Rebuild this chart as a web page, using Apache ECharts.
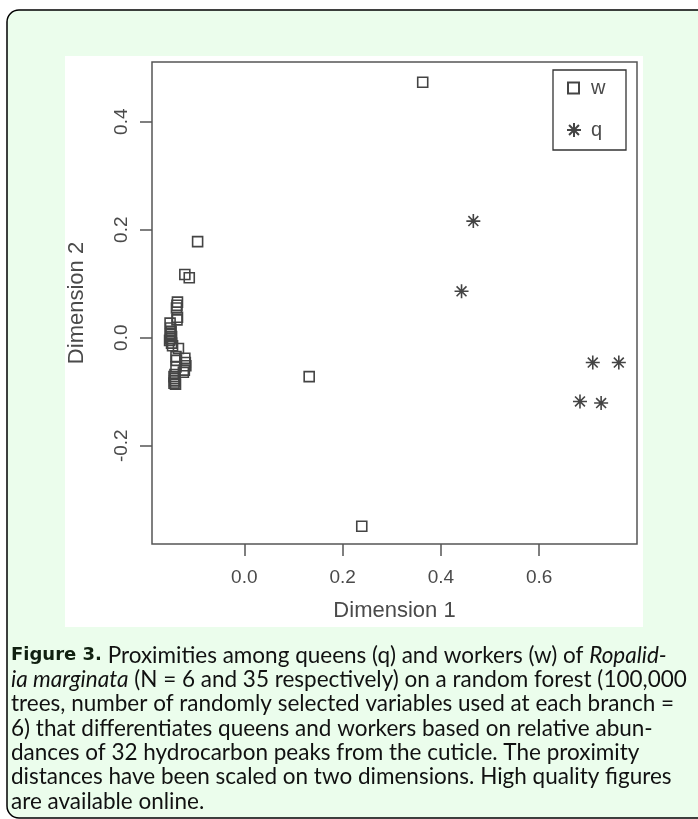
<!DOCTYPE html>
<html>
<head>
<meta charset="utf-8">
<script src="https://cdn.jsdelivr.net/npm/echarts@6/dist/echarts.min.js"></script>
<style>html,body{margin:0;padding:0;background:#fff;}#c{width:698px;height:819px;}</style>
</head>
<body>
<div id="c"></div>
<script>
// ---- data ----
const wX = [0.363, 0.239, 0.132, -0.095, -0.121, -0.112,
  -0.136, -0.137, -0.138, -0.136, -0.137, -0.151, -0.150, -0.149, -0.151, -0.148,
  -0.150, -0.152, -0.148, -0.146, -0.134, -0.139, -0.138, -0.121, -0.120, -0.119,
  -0.139, -0.122, -0.124, -0.141, -0.143, -0.141, -0.142, -0.143, -0.140];
const wY = [0.473, -0.349, -0.072, 0.178, 0.117, 0.111,
  0.066, 0.060, 0.055, 0.038, 0.033, 0.027, 0.018, 0.012, 0.006, 0.002,
  -0.002, -0.005, -0.010, -0.015, -0.020, -0.035, -0.042, -0.038, -0.046, -0.052,
  -0.054, -0.060, -0.064, -0.068, -0.072, -0.076, -0.080, -0.084, -0.086];
const qX = [0.466, 0.442, 0.709, 0.762, 0.683, 0.726];
const qY = [0.216, 0.086, -0.046, -0.046, -0.118, -0.121];
const xTicks = [0.0, 0.2, 0.4, 0.6];
const yTicks = [-0.2, 0.0, 0.2, 0.4];
const seriesNames = ['w', 'q'];
const xTitle = 'Dimension 1';
const yTitle = 'Dimension 2';
const captionLines = [
  '{b|Figure 3.} Proximities among queens (q) and workers (w) of {i|Ropalid-}',
  '{i|ia marginata} (N = 6 and 35 respectively) on a random forest (100,000',
  'trees, number of randomly selected variables used at each branch =',
  '6) that differentiates queens and workers based on relative abun-',
  'dances of 32 hydrocarbon peaks from the cuticle. The proximity',
  'distances have been scaled on two dimensions. High quality figures',
  'are available online.'
];

const wData = wX.map((x, i) => [x, wY[i]]);
const qData = qX.map((x, i) => [x, qY[i]]);

const ink = '#444';
const axisInk = '#4a4a4a';
const star = 'path://M10,0L10,20M0,10L20,10M2.93,2.93L17.07,17.07M2.93,17.07L17.07,2.93';
const capFont = 'Lato';
const capSize = 22.5;

const graphics = [
  { type: 'rect', z: -20, shape: { x: 7, y: 10, width: 740, height: 808, r: 12 },
    style: { fill: '#ebfdec', stroke: '#000', lineWidth: 1.5 } },
  { type: 'rect', z: -10, shape: { x: 65, y: 56, width: 578, height: 571 },
    style: { fill: '#fff' } },
  { type: 'rect', z: 1, shape: { x: 553, y: 70, width: 73, height: 80 },
    style: { fill: '#fff', stroke: '#333', lineWidth: 1.3 } }
];
captionLines.forEach((t, i) => {
  graphics.push({
    type: 'text', z: 5, left: 11, top: 644 + i * 24.3,
    style: {
      text: t, font: capSize + 'px ' + capFont, fill: '#111',
      rich: {
        b: { fontWeight: 'bold', fontSize: 18, fontFamily: 'DejaVu Sans', fill: '#102010' },
        i: { fontStyle: 'italic', fontSize: capSize, fontFamily: capFont, fill: '#111' }
      }
    }
  });
});

const chart = echarts.init(document.getElementById('c'), null, { renderer: 'canvas' });
chart.setOption({
  animation: false,
  backgroundColor: '#fff',
  textStyle: { fontFamily: 'Liberation Sans' },
  grid: { left: 152, top: 62, width: 485, height: 482, show: true,
    borderColor: '#555', borderWidth: 1.5, backgroundColor: 'transparent' },
  xAxis: {
    type: 'value', min: -0.1878, max: 0.799,
    name: xTitle, nameLocation: 'middle', nameGap: 56,
    nameTextStyle: { fontSize: 22, color: axisInk, fontFamily: 'Liberation Sans' },
    axisLine: { show: false, onZero: false },
    splitLine: { show: false },
    axisTick: { show: true, inside: false, length: 12, customValues: xTicks,
      lineStyle: { color: '#555', width: 1.5 } },
    axisLabel: { customValues: xTicks, margin: 24, fontSize: 19, color: axisInk,
      formatter: v => v.toFixed(1) }
  },
  yAxis: {
    type: 'value', min: -0.382, max: 0.5106,
    name: yTitle, nameLocation: 'middle', nameGap: 64, nameRotate: 90,
    nameTextStyle: { fontSize: 22, color: axisInk, fontFamily: 'Liberation Sans' },
    axisLine: { show: false, onZero: false },
    splitLine: { show: false },
    axisTick: { show: true, inside: false, length: 12, customValues: yTicks,
      lineStyle: { color: '#555', width: 1.5 } },
    axisLabel: { customValues: yTicks, margin: 21, fontSize: 19, color: axisInk, rotate: 90,
      formatter: v => v.toFixed(1) }
  },
  legend: [
    { data: [seriesNames[0]], left: 567, top: 78, padding: 0, itemWidth: 11, itemHeight: 11,
      textStyle: { fontSize: 20, color: axisInk, padding: [0, 0, 0, 7] } },
    { data: [seriesNames[1]], left: 566, top: 120, padding: 0, itemWidth: 14, itemHeight: 14,
      textStyle: { fontSize: 20, color: axisInk, padding: [0, 0, 0, 5] } }
  ],
  series: [
    { name: seriesNames[0], type: 'scatter', data: wData, symbol: 'rect', symbolSize: 10,
      itemStyle: { color: 'rgba(0,0,0,0)', borderColor: ink, borderWidth: 1.6, opacity: 1 } },
    { name: seriesNames[1], type: 'scatter', data: qData, symbol: star, symbolSize: 14,
      itemStyle: { color: ink, borderColor: ink, borderWidth: 1.6, opacity: 1 } }
  ],
  graphic: graphics
});
</script>
</body>
</html>
